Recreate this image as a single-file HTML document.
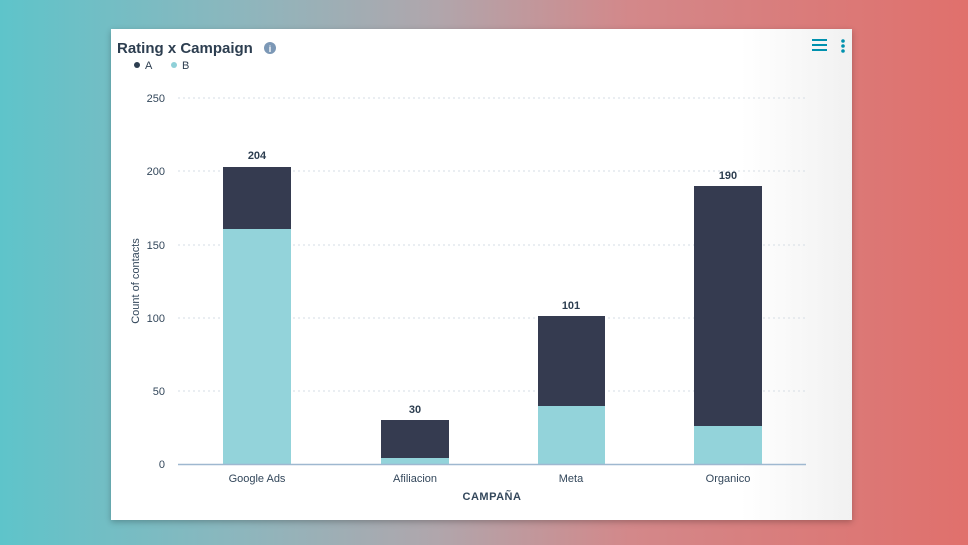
<!DOCTYPE html>
<html><head><meta charset="utf-8"><style>
html,body{margin:0;padding:0;width:968px;height:545px;overflow:hidden}
body{background:linear-gradient(90deg,#5ec4ca 0%,#8db6bd 25%,#b0a6ac 45%,#d3888a 65%,#e0706c 100%);font-family:"Liberation Sans",sans-serif;position:relative}
.card{position:absolute;left:111px;top:29px;width:741px;height:491px;background:linear-gradient(90deg,#fff 85%,#f1f1f1 100%);box-shadow:0 2px 6px rgba(0,0,0,.25)}
</style></head><body>
<div class="card"></div>
<svg width="968" height="545" style="position:absolute;left:0;top:0" font-family="Liberation Sans, sans-serif">
<text x="117" y="53" font-size="15" font-weight="bold" fill="#2d3e50">Rating x Campaign</text>
<circle cx="270" cy="48" r="6" fill="#7c98b6"/><text x="270" y="52" font-size="9" font-weight="bold" fill="#fff" text-anchor="middle">i</text>
<circle cx="137" cy="65" r="3" fill="#2d3e50"/><text x="145" y="69" font-size="11" fill="#2d3e50">A</text>
<circle cx="174" cy="65" r="3" fill="#8fd0d8"/><text x="182" y="69" font-size="11" fill="#2d3e50">B</text>
<g stroke="#0091ae" stroke-width="2"><line x1="812" y1="40" x2="827" y2="40"/><line x1="812" y1="45" x2="827" y2="45"/><line x1="812" y1="50" x2="827" y2="50"/></g>
<g fill="#0091ae"><circle cx="843" cy="41" r="1.8"/><circle cx="843" cy="46" r="1.8"/><circle cx="843" cy="51" r="1.8"/></g>
<g stroke="#d6dde4" stroke-dasharray="2,3" stroke-width="1">
<line x1="178" y1="98" x2="806" y2="98"/><line x1="178" y1="171" x2="806" y2="171"/><line x1="178" y1="245" x2="806" y2="245"/><line x1="178" y1="318" x2="806" y2="318"/><line x1="178" y1="391" x2="806" y2="391"/></g>
<g font-size="11" fill="#33475b" text-anchor="end"><text x="165" y="102">250</text><text x="165" y="175">200</text><text x="165" y="249">150</text><text x="165" y="322">100</text><text x="165" y="395">50</text><text x="165" y="468">0</text></g>
<text transform="translate(139,281) rotate(-90)" font-size="11" fill="#33475b" text-anchor="middle">Count of contacts</text>
<g fill="#353b50"><rect x="223" y="167" width="68" height="62"/><rect x="381" y="420" width="68" height="38"/><rect x="538" y="316" width="67" height="90"/><rect x="694" y="186" width="68" height="240"/></g>
<g fill="#93d3da"><rect x="223" y="229" width="68" height="235"/><rect x="381" y="458" width="68" height="6"/><rect x="538" y="406" width="67" height="58"/><rect x="694" y="426" width="68" height="38"/></g>
<line x1="178" y1="464.5" x2="806" y2="464.5" stroke="#9fb8d0" stroke-width="1.5"/>
<g font-size="11" font-weight="bold" fill="#2d3e50" text-anchor="middle"><text x="257" y="159">204</text><text x="415" y="413">30</text><text x="571" y="309">101</text><text x="728" y="179">190</text></g>
<g font-size="11" fill="#33475b" text-anchor="middle"><text x="257" y="482">Google Ads</text><text x="415" y="482">Afiliacion</text><text x="571" y="482">Meta</text><text x="728" y="482">Organico</text></g>
<text x="492" y="500" font-size="11" font-weight="bold" fill="#33475b" text-anchor="middle" letter-spacing="0.5">CAMPAÑA</text>
</svg>
</body></html>
